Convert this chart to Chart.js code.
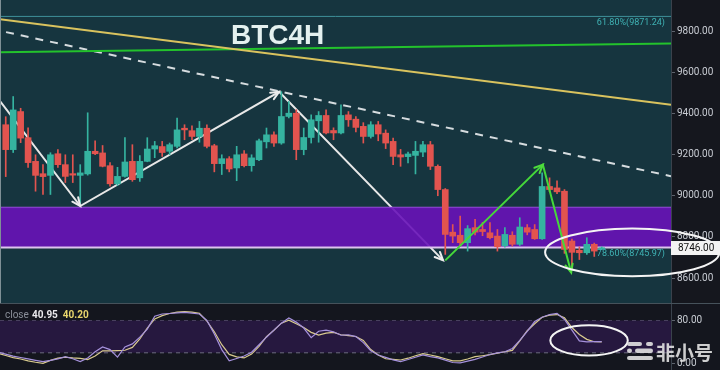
<!DOCTYPE html>
<html><head><meta charset="utf-8">
<script src="https://cdn.jsdelivr.net/npm/chart.js@4.4.0/dist/chart.umd.min.js"></script>
<style>
html,body{margin:0;padding:0;background:#14161e;width:720px;height:370px;overflow:hidden;}
#wrap{position:relative;width:720px;height:370px;}
#main{position:absolute;left:0;top:0;}
#osc{position:absolute;left:0;top:304px;}
</style></head><body>
<div id="wrap">
<canvas id="main" width="720" height="304"></canvas>
<canvas id="osc" width="720" height="66"></canvas>
</div>
<script>
// ---- candle data (4H BTC) ----
const opens = [9345,9224,9409,9282,9167,9107,9099,9204,9151,9106, 9099,9106,9216,9208,9146,9058,9094,9167,9087,9167, 9227,9239,9216,9240,9328,9316,9288,9328,9243,9156, 9180,9135,9203,9146,9175,9262,9296,9256,9385,9401, 9224,9283,9364,9390,9317,9305,9393,9372,9337,9288, 9345,9304,9264,9199,9190,9196,9212,9248,9143,9030, 8823,8808,8772,8845,8836,8820,8804,8757,8808,8764, 8845,8836,8791,9045,9038,9022,8780,8735,8723,8764, 8740];
const highs = [9384,9482,9425,9330,9199,9151,9209,9224,9199,9199, 9151,9403,9267,9244,9161,9138,9283,9248,9195,9282, 9264,9264,9256,9377,9345,9340,9361,9345,9250,9199, 9190,9240,9220,9199,9275,9329,9310,9506,9458,9418, 9329,9393,9409,9417,9330,9442,9409,9385,9355,9360, 9361,9320,9280,9225,9212,9264,9264,9264,9150,9035, 8860,8901,8855,8885,8870,8870,8836,8845,8825,8893, 8860,8860,9111,9087,9072,9030,8790,8752,8796,8770, 8752];
const lows = [9093,9210,9258,9137,9022,9006,9006,9137,9064,9064, 8957,9100,9199,9140,9046,9050,9090,9070,9070,9165, 9185,9191,9200,9232,9272,9272,9260,9232,9116,9103, 9116,9073,9140,9119,9170,9232,9240,9250,9378,9175, 9199,9256,9260,9300,9272,9300,9337,9310,9256,9280, 9267,9229,9151,9143,9160,9106,9190,9127,9000,8715, 8772,8757,8731,8810,8806,8790,8731,8750,8755,8758, 8810,8788,8788,9020,9010,8720,8640,8690,8715,8705, 8738];
const closes = [9224,9417,9280,9161,9099,9093,9199,9151,9094,9100, 9111,9216,9204,9143,9058,9094,9164,9078,9167,9227, 9243,9210,9248,9320,9320,9288,9328,9240,9156,9180, 9130,9199,9146,9184,9267,9296,9256,9385,9401,9224, 9283,9369,9390,9305,9305,9390,9369,9332,9288,9345, 9300,9256,9191,9188,9203,9216,9248,9143,9030,8812, 8804,8772,8840,8823,8826,8796,8752,8812,8764,8848, 8823,8791,9045,9030,9019,8739,8725,8723,8764,8731, 8746];
// Stoch RSI (first value is one bar before the first candle)
const stochK = [21, 17.5,14,11.3,8.7,6,3.5,6,8.9,13,9, 3.6,10.5,22,31,26,12,31,36.5,49,64, 88,92,93,94,95,93.5,92,80,55,26, 5,9.5,14,21,35,49,62,75,84.5,77, 66,48,60,62,59,52.6,53.5,50,39,24, 16,11.5,7,3.8,7.5,11.7,16,13,10.5,6.5, 2,1.5,4.5,7.8,12.3,16.8,20,22,28,43, 60,78,86,91,93,82,62,42,40.3,40.6, 40.95];
const stochD = [19, 15,11,8.5,5,2.5,0.6,6,10,11.8,10.5, 9.6,7.4,14,23.7,23.7,24.2,24.8,30,45.7,66, 83,89,93,95.5,96.5,95.5,93.5,79,59,35, 17,12.4,10.5,17.6,32,50,62,75,80.5,74, 67,58,53,56.5,58,53.5,52,50.3,43,26, 16,9,8,6.7,10,14.5,18.5,16,13,9, 5,5,8.5,12.8,14.5,16.5,19.4,22,24.5,42, 61,74,86,90,91,85,67,54,45,40.5, 40.2];
const priceTicks = [8600, 8800, 9000, 9200, 9400, 9600, 9800];
const oscTicks = [0, 80];
// drawings, in (bar index, price) coordinates
const yellowTrendX = [-0.77, 89.3], yellowTrendY = [9857, 9442];
const greenTrendX = [-0.77, 89.3], greenTrendY = [9697, 9740];
const dashTrendX = [0.04, 89.3], dashTrendY = [9795, 9095];
const whiteArrowX = [-0.77, 10, 36.7, 58.7], whiteArrowY = [9460, 8950, 9505, 8686];
const greenArrowX = [59, 72.1, 75.9], greenArrowY = [8686, 9151, 8627];
const zoneTop = 8943, zoneBottom = 8748;
const fib618 = 9871.24, fib786 = 8745.97;
const lastPrice = 8746.00;
const stochLevels = [20, 80];
const stochLast = [40.95, 40.20];

const X_MIN = -0.77, X_MAX = 89.3;
const UP = '#35b3a0', DOWN = '#e2544f';
const candleColors = closes.map((c, i) => c >= opens[i] ? UP : DOWN);

const pts = (xs, ys) => xs.map((x, i) => ({x, y: ys[i]}));
const hline = v => [{x: X_MIN, y: v}, {x: X_MAX, y: v}];
const lineDs = (data, color, width, order, extra) => Object.assign({
  type: 'line', data, borderColor: color, borderWidth: width, pointRadius: 0,
  tension: 0, fill: false, order
}, extra || {});

const rightAxis = (min, max, ticksList) => ({
  position: 'right', min, max,
  afterFit(s) { s.width = 49; s.paddingTop = 0; s.paddingBottom = 0; },
  afterBuildTicks(s) { s.ticks = ticksList.map(v => ({value: v})); },
  ticks: { color: '#c8ccd3', font: {family: 'Roboto', size: 10}, padding: 2,
           callback: v => Number(v).toFixed(2) },
  grid: { drawOnChartArea: false, drawTicks: true, tickLength: 4, color: '#5d636d' },
  border: { display: true, color: '#3a424c' }
});

function arrowHead(ctx, x0, y0, x1, y1, color) {
  const ang = Math.atan2(y1 - y0, x1 - x0), L = 9, a = 0.42;
  ctx.strokeStyle = color; ctx.lineWidth = 2; ctx.lineCap = 'round';
  ctx.beginPath();
  ctx.moveTo(x1 - L * Math.cos(ang - a), y1 - L * Math.sin(ang - a));
  ctx.lineTo(x1, y1);
  ctx.lineTo(x1 - L * Math.cos(ang + a), y1 - L * Math.sin(ang + a));
  ctx.stroke();
}

const mainBg = {
  id: 'mainBg',
  beforeDraw(chart) {
    const {ctx, chartArea: a, width, height} = chart;
    ctx.save();
    ctx.fillStyle = '#15171e'; ctx.fillRect(0, 0, width, height);
    ctx.fillStyle = '#16353f'; ctx.fillRect(a.left, a.top, a.right - a.left, a.bottom - a.top);
    ctx.restore();
  }
};
const mainAnno = {
  id: 'mainAnno',
  afterDatasetsDraw(chart) {
    const {ctx, chartArea: a, scales: {x, y}} = chart;
    ctx.save();
    ctx.beginPath(); ctx.rect(a.left, a.top, a.right - a.left, a.bottom - a.top); ctx.clip();
    for (let i = 1; i < whiteArrowX.length; i++)
      arrowHead(ctx, x.getPixelForValue(whiteArrowX[i-1]), y.getPixelForValue(whiteArrowY[i-1]),
                x.getPixelForValue(whiteArrowX[i]), y.getPixelForValue(whiteArrowY[i]), '#ececec');
    for (let i = 1; i < greenArrowX.length; i++)
      arrowHead(ctx, x.getPixelForValue(greenArrowX[i-1]), y.getPixelForValue(greenArrowY[i-1]),
                x.getPixelForValue(greenArrowX[i]), y.getPixelForValue(greenArrowY[i]), '#4ddc3c');
    // fib labels
    ctx.fillStyle = '#3fb2b4'; ctx.font = '9px Roboto'; ctx.textAlign = 'right'; ctx.textBaseline = 'top';
    ctx.fillText('61.80%(9871.24)', a.right - 6, y.getPixelForValue(fib618) + 1.5);
    ctx.fillText('78.60%(8745.97)', a.right - 6, y.getPixelForValue(fib786) + 1.5);
    // title
    ctx.fillStyle = '#e4f1ef'; ctx.font = 'bold 28px "Liberation Sans", Arial'; ctx.textAlign = 'left';
    ctx.textBaseline = 'alphabetic';
    ctx.fillText('BTC4H', 231, 43.5);
    // left edge
    ctx.fillStyle = '#7f9096'; ctx.fillRect(0, 0, 1, a.bottom);
    ctx.restore();
  },
  afterDraw(chart) {
    const {ctx, chartArea: a, scales: {x, y}} = chart;
    ctx.save();
    // highlight ellipse
    const cx = x.getPixelForValue(84.1), cy = y.getPixelForValue(8725);
    const rx = x.getPixelForValue(84.1 + 11.7) - cx, ry = cy - y.getPixelForValue(8725 + 116);
    ctx.strokeStyle = '#f4f4f4'; ctx.lineWidth = 2;
    ctx.beginPath(); ctx.ellipse(cx, cy, rx, ry, 0, 0, Math.PI * 2); ctx.stroke();
    // last price box
    const py = y.getPixelForValue(lastPrice);
    ctx.fillStyle = '#f3f3f3'; ctx.fillRect(a.right, py - 7, 49, 14);
    ctx.fillStyle = '#111'; ctx.font = '10px Roboto'; ctx.textAlign = 'left'; ctx.textBaseline = 'middle';
    ctx.fillText(lastPrice.toFixed(2), a.right + 7, py + 0.5);
    // panel divider
    ctx.fillStyle = '#46525b'; ctx.fillRect(0, a.bottom - 1, chart.width, 1);
    ctx.restore();
  }
};

new Chart(document.getElementById('main'), {
  type: 'bar',
  data: { datasets: [
    lineDs(pts(whiteArrowX, whiteArrowY), '#e8e8e8', 2, 10),
    lineDs(hline(zoneTop), '#9a62d6', 1.5, 9),
    lineDs(hline(zoneBottom), '#dcc3ee', 2, 8, {fill: '-1', backgroundColor: 'rgba(104,18,184,0.9)'}),
    lineDs(hline(fib618), '#3e9099', 1, 9),
    lineDs(pts(yellowTrendX, yellowTrendY), '#d9c35e', 2, 7),
    lineDs(pts(greenTrendX, greenTrendY), '#23c22c', 2, 7),
    lineDs(pts(dashTrendX, dashTrendY), '#d6dcdf', 2, 7, {borderDash: [8, 7]}),
    { type: 'bar', data: opens.map((o, i) => ({x: i, y: [lows[i], highs[i]]})),
      backgroundColor: candleColors, grouped: false, maxBarThickness: 1,
      barPercentage: 1, categoryPercentage: 1, order: 5 },
    { type: 'bar', data: opens.map((o, i) => ({x: i, y: [o, closes[i]]})),
      backgroundColor: candleColors, grouped: false, maxBarThickness: 6, minBarLength: 1.5,
      barPercentage: 1, categoryPercentage: 1, order: 4 },
    lineDs(pts(greenArrowX, greenArrowY), '#45d83a', 2, 2)
  ]},
  options: {
    responsive: false, animation: false, devicePixelRatio: 1,
    layout: { padding: 0 },
    plugins: { legend: {display: false}, tooltip: {enabled: false} },
    scales: {
      x: { type: 'linear', min: X_MIN, max: X_MAX, display: false, offset: false },
      y: rightAxis(8474, 9951, priceTicks)
    }
  },
  plugins: [mainBg, mainAnno]
});

// ---- oscillator ----
const oscBg = {
  id: 'oscBg',
  beforeDraw(chart) {
    const {ctx, width, height} = chart;
    ctx.save(); ctx.fillStyle = '#14161e'; ctx.fillRect(0, 0, width, height); ctx.restore();
  }
};
const oscAnno = {
  id: 'oscAnno',
  afterDraw(chart) {
    const {ctx, scales: {x, y}} = chart;
    ctx.save();
    // legend values
    ctx.textBaseline = 'middle'; ctx.textAlign = 'left';
    ctx.font = '10px Roboto'; ctx.fillStyle = '#8a8f99'; ctx.fillText('close', 5, 11);
    ctx.font = 'bold 10px Roboto'; ctx.fillStyle = '#e9e9ec';
    const t1 = stochLast[0].toFixed(2);
    ctx.fillText(t1, 32, 11);
    ctx.fillStyle = '#e8d56c';
    ctx.fillText(stochLast[1].toFixed(2), 32 + ctx.measureText(t1).width + 5, 11);
    // ellipse
    const cx = x.getPixelForValue(78.3), cy = y.getPixelForValue(43);
    const rx = x.getPixelForValue(78.3 + 5.2) - cx, ry = cy - y.getPixelForValue(43 + 28);
    ctx.strokeStyle = '#f4f4f4'; ctx.lineWidth = 2;
    ctx.beginPath(); ctx.ellipse(cx, cy, rx, ry, 0, 0, Math.PI * 2); ctx.stroke();
    // watermark
    ctx.fillStyle = 'rgba(222,222,222,0.92)';
    const rr = (x0, y0, w, h) => { ctx.beginPath(); ctx.roundRect(x0, y0, w, h, h / 2); ctx.fill(); };
    rr(627, 38, 15, 4); rr(646, 38, 7, 4);
    rr(627, 44.5, 5, 4.5); rr(635, 44.5, 18, 4.5);
    rr(627, 52, 26, 4);
    ctx.font = 'bold 19px "Noto Sans CJK SC"'; ctx.textBaseline = 'alphabetic';
    ctx.fillText('非小号', 656, 56);
    ctx.restore();
  }
};
const oscIdx = stochK.map((v, j) => j - 1);
new Chart(document.getElementById('osc'), {
  type: 'line',
  data: { datasets: [
    lineDs(hline(stochLevels[1]), '#6c6a80', 1, 10, {borderDash: [4, 4]}),
    lineDs(hline(stochLevels[0]), '#6c6a80', 1, 9, {borderDash: [4, 4], fill: '-1', backgroundColor: '#26183f'}),
    lineDs(pts(oscIdx, stochD), '#d9cb8e', 1.2, 3),
    lineDs(pts(oscIdx, stochK), '#a591dc', 1.2, 2)
  ]},
  options: {
    responsive: false, animation: false, devicePixelRatio: 1,
    layout: { padding: 0 },
    plugins: { legend: {display: false}, tooltip: {enabled: false} },
    scales: {
      x: { type: 'linear', min: X_MIN, max: X_MAX, display: false, offset: false },
      y: rightAxis(-11.9, 110.6, oscTicks)
    }
  },
  plugins: [oscBg, oscAnno]
});
</script>
</body></html>
